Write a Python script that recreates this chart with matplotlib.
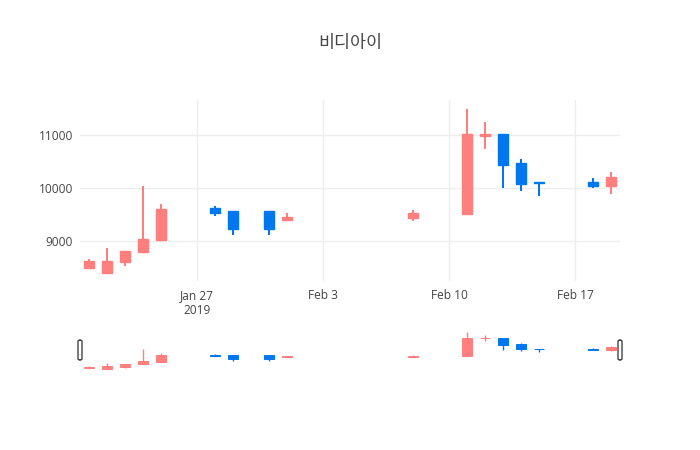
import matplotlib
matplotlib.use("Agg")
import matplotlib.pyplot as plt
import matplotlib.dates as mdates
from matplotlib.patches import FancyBboxPatch
import datetime as dt

# ---- data ----
dates = ["2019-01-21", "2019-01-22", "2019-01-23", "2019-01-24", "2019-01-25",
         "2019-01-28", "2019-01-29", "2019-01-31", "2019-02-01", "2019-02-08",
         "2019-02-11", "2019-02-12", "2019-02-13", "2019-02-14", "2019-02-15",
         "2019-02-18", "2019-02-19"]
opens  = [8485, 8390, 8600, 8790, 9010, 9610, 9570, 9570, 9400, 9430,
          9500, 10980, 11010, 10470, 10110, 10110, 10030]
highs  = [8665, 8870, 8810, 10040, 9700, 9650, 9570, 9570, 9520, 9590,
          11490, 11240, 11010, 10540, 10110, 10190, 10300]
lows   = [8485, 8390, 8530, 8790, 9010, 9460, 9110, 9110, 9400, 9380,
          9500, 10740, 9990, 9950, 9850, 9990, 9890]
closes = [8610, 8620, 8810, 9040, 9600, 9530, 9230, 9230, 9450, 9530,
          11010, 11020, 10430, 10080, 10100, 10030, 10210]
tick_dates = ["2019-01-27", "2019-02-03", "2019-02-10", "2019-02-17"]
tick_labels = ["Jan 27\n2019", "Feb 3", "Feb 10", "Feb 17"]
y_ticks = [9000, 10000, 11000]
title = "비디아이"

inc_color = "#FF7F7F"
dec_color = "#0077EE"
text_color = "#444444"

x = [mdates.date2num(dt.datetime.strptime(d, "%Y-%m-%d")) for d in dates]
xt = [mdates.date2num(dt.datetime.strptime(d, "%Y-%m-%d")) for d in tick_dates]
x0 = mdates.date2num(dt.datetime(2019, 1, 20, 12))
x1 = mdates.date2num(dt.datetime(2019, 2, 19, 12))
ylo, yhi = 8240, 11660

W, H = 700, 450
fig = plt.figure(figsize=(7, 4.5), dpi=100)

def fr(l, t, r, b):
    return [l / W, 1 - b / H, (r - l) / W, (b - t) / H]

ax = fig.add_axes(fr(80, 100, 620, 281))
sl = fig.add_axes(fr(80, 330, 620, 371))

def draw(a, lw, elw):
    for xi, o, h, l, c in zip(x, opens, highs, lows, closes):
        col = inc_color if c >= o else dec_color
        a.vlines(xi, l, h, color=col, linewidth=lw, zorder=3)
        bot = min(o, c)
        a.bar(xi, max(abs(c - o), 1), bottom=bot, width=0.54, color=col,
              edgecolor=col, linewidth=elw, zorder=4)
    a.set_xlim(x0, x1)
    a.set_ylim(ylo, yhi)
    for s in a.spines.values():
        s.set_visible(False)

draw(ax, 1.44, 1.0)
draw(sl, 1.0, 0.7)

ax.set_xticks(xt)
ax.set_xticklabels(tick_labels, fontsize=8.6, color=text_color, family="Open Sans")
ax.set_yticks(y_ticks)
ax.set_yticklabels([str(v) for v in y_ticks], fontsize=8.6, color=text_color, family="Open Sans")
ax.tick_params(length=0, pad=5)
ax.tick_params(axis="x", pad=6)
ax.grid(True, color="#eeeeee", linewidth=1)
ax.set_axisbelow(True)

sl.set_xticks([])
sl.set_yticks([])

# range slider handles
for hx in (80, 620):
    p = FancyBboxPatch(((hx - 2) / W, 1 - 360 / H), 4 / W, 20 / H,
                       boxstyle="round,pad=0,rounding_size=0.003",
                       transform=fig.transFigure, facecolor="white",
                       edgecolor=text_color, linewidth=1, zorder=10)
    fig.patches.append(p)

fig.text(0.5, 1 - 43 / H, title, ha="center", va="center", fontsize=12.5,
         color=text_color, family=["Noto Sans CJK KR", "DejaVu Sans"])

fig.savefig("out.png", dpi=100)
